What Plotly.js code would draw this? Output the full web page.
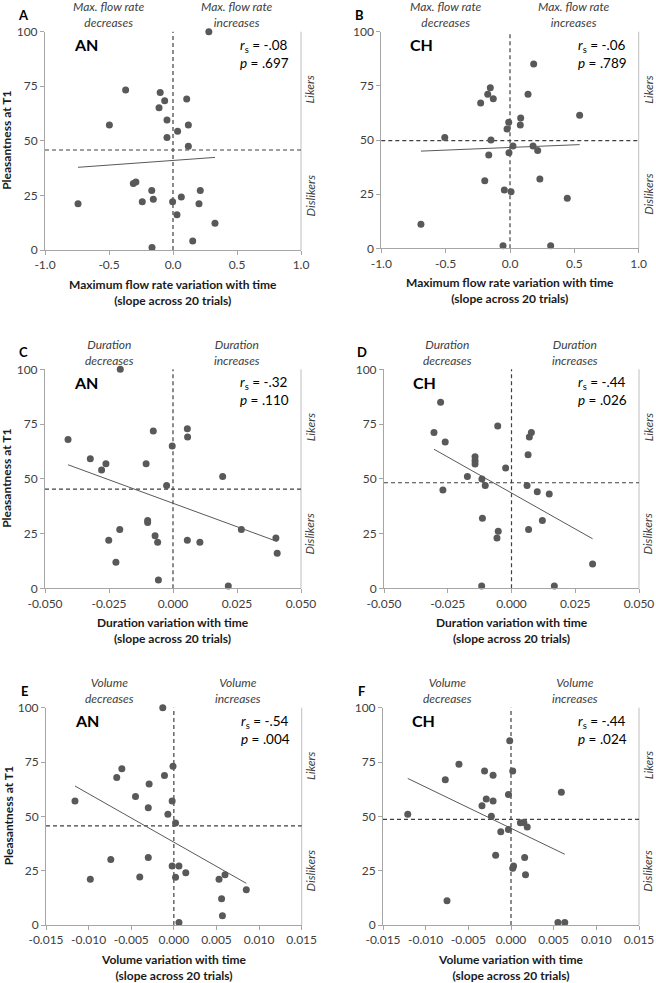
<!DOCTYPE html>
<html><head><meta charset="utf-8">
<script src="https://cdn.plot.ly/plotly-3.0.1.min.js"></script>
<style>html,body{margin:0;padding:0;background:#fff}#chart{width:656px;height:983px}</style>
</head><body><div id="chart"></div>
<script>
// ---------- DATA ----------
// A: AN, maximum flow rate slope vs pleasantness
const xA = [0.28, -0.37, -0.10, -0.065, 0.107, -0.109, -0.047, -0.497, 0.12, 0.036, -0.047, 0.12, -0.31, -0.29, -0.166, -0.24, -0.154, -0.003, 0.065, 0.213, 0.203, 0.031, 0.328, 0.154, -0.164, -0.742];
const yA = [100, 73.3, 72.2, 68.4, 69.2, 65.2, 59.5, 57.3, 57.3, 54.4, 51.5, 47.5, 30.5, 31.1, 27.2, 22.1, 23.2, 22.1, 24.3, 27.2, 21.2, 16.2, 12.2, 4.1, 1.2, 21.2];
// B: CH, maximum flow rate
const xB = [0.184, -0.153, -0.173, -0.13, -0.228, 0.14, 0.083, 0.541, -0.01, 0.08, -0.023, -0.507, -0.148, 0.023, 0.179, 0.215, -0.008, -0.165, -0.196, 0.232, -0.044, 0.008, 0.445, -0.692, -0.054, 0.316];
const yB = [85.1, 74.1, 71.1, 69.1, 67.1, 71.1, 60.2, 61.4, 58.2, 56.9, 55.1, 51.2, 50.0, 47.2, 47.2, 45.2, 44.1, 43.1, 31.2, 32.0, 26.9, 26.1, 23.1, 11.1, 1.2, 1.2];
// C: AN, duration
const xC = [-0.0206, -0.041, -0.0077, 0.0056, 0.0057, -0.0003, -0.0323, -0.0262, -0.0279, -0.0105, 0.0194, -0.0025, -0.0099, -0.0099, -0.0208, 0.0267, -0.0251, -0.007, -0.006, 0.0056, 0.0105, 0.0402, 0.0407, -0.0223, -0.0057, 0.0216];
const yC = [100, 68.0, 71.8, 72.9, 69.1, 65.0, 59.2, 56.9, 54.0, 56.9, 51.1, 46.9, 31.0, 30.1, 26.9, 26.9, 21.9, 24.0, 21.0, 21.9, 21.0, 23.0, 16.0, 11.9, 3.8, 1.1];
// D: CH, duration
const xD = [-0.0278, -0.0304, -0.026, -0.0054, 0.0078, 0.007, 0.0065, -0.0143, -0.0143, -0.0143, -0.0023, -0.0173, -0.0116, -0.0103, -0.0269, 0.0061, 0.0101, 0.0148, -0.0114, 0.0121, -0.0052, -0.0057, 0.0067, 0.0318, -0.0117, 0.0168];
const yD = [84.9, 71.1, 66.8, 74.1, 71.1, 69.1, 61.0, 60.1, 58.2, 56.8, 54.9, 51.0, 49.9, 46.9, 44.9, 46.9, 44.1, 43.1, 32.0, 31.0, 26.0, 23.0, 26.9, 11.1, 1.1, 1.1];
// E: AN, volume
const xE = [-0.0013, -0.0001, -0.0061, -0.0067, -0.0011, -0.0029, -0.0045, -0.0116, -0.0002, -0.003, -0.0007, 0.0002, -0.0074, -0.003, -0.0002, 0.0006, 0.0014, 0.0002, -0.004, -0.0098, 0.0053, 0.006, 0.0085, 0.0056, 0.0057, 0.0006];
const yE = [100, 73.0, 71.9, 67.9, 68.8, 64.9, 59.1, 57.1, 57.1, 54.0, 51.0, 46.9, 30.2, 31.1, 27.2, 27.2, 24.1, 22.0, 22.1, 21.0, 21.0, 23.1, 16.2, 12.1, 4.3, 1.1];
// F: CH, volume
const xF = [-0.00015, -0.0061, -0.0031, 0.0002, -0.0021, -0.0077, 0.0059, -0.0003, -0.0029, -0.0021, -0.0034, -0.0121, -0.0023, 0.0011, 0.0015, 0.0019, -0.0003, -0.0012, -0.0018, 0.0016, 0.0003, 0.0002, 0.0017, -0.0075, 0.0055, 0.0063];
const yF = [84.8, 74.0, 70.9, 70.9, 68.9, 66.9, 61.1, 60.0, 58.0, 57.1, 54.9, 51.0, 50.1, 47.1, 47.2, 45.1, 44.0, 42.9, 32.1, 31.1, 27.2, 26.1, 23.1, 11.2, 1.1, 1.1];

const panelLetters = ['A', 'B', 'C', 'D', 'E', 'F'];
const groupNames = ['AN', 'CH', 'AN', 'CH', 'AN', 'CH'];
const rsValues = ['-.08', '-.06', '-.32', '-.44', '-.54', '-.44'];
const pValues = ['.697', '.789', '.110', '.026', '.004', '.024'];
const likerCut = [45.8, 49.7, 45.3, 48.2, 45.6, 48.6];

const measureNames = ['Maximum flow rate', 'Duration', 'Volume'];
const topLeftLabels = ['Max. flow rate<br>decreases', 'Duration<br>decreases', 'Volume<br>decreases'];
const topRightLabels = ['Max. flow rate<br>increases', 'Duration<br>increases', 'Volume<br>increases'];
const xTickVals = [[-1.0, -0.5, 0.0, 0.5, 1.0], [-0.050, -0.025, 0.000, 0.025, 0.050], [-0.015, -0.010, -0.005, 0.000, 0.005, 0.010, 0.015]];
const xTickDecimals = [1, 3, 3];
const yTickVals = [0, 25, 50, 75, 100];
const yTitle = 'Pleasantness at T1';
const xTitleLine2 = '(slope across 20 trials)';
const likersLabel = 'Likers';
const dislikersLabel = 'Dislikers';

// ---------- LAYOUT ----------
const W = 656, H = 983;
const FONT = 'Lato, "Open Sans", sans-serif';
const boxes = [[45, 301, 31.7, 250], [381.3, 638.7, 31.7, 248.3], [45, 301, 369.3, 588.3], [384, 639, 369.3, 588.3], [46, 301.7, 707.7, 925], [383, 639, 707.7, 925]];
const xs = [xA, xB, xC, xD, xE, xF];
const ys = [yA, yB, yC, yD, yE, yF];

function fmt(v, d) { return v.toFixed(d).replace('\u2212', '-'); }
function ols(x, y) {
  const n = x.length;
  const mx = x.reduce((a, b) => a + b, 0) / n, my = y.reduce((a, b) => a + b, 0) / n;
  let sxy = 0, sxx = 0;
  for (let k = 0; k < n; k++) { sxy += (x[k] - mx) * (y[k] - my); sxx += (x[k] - mx) ** 2; }
  const b = sxy / sxx; return [my - b * mx, b];
}

const data = [];
const layout = {
  width: W, height: H, margin: {l: 0, r: 0, t: 0, b: 0},
  paper_bgcolor: '#fff', plot_bgcolor: '#fff', showlegend: false,
  font: {family: FONT, color: '#404040'},
  shapes: [], annotations: []
};

for (let i = 0; i < 6; i++) {
  const r = Math.floor(i / 2);
  const n = i + 1;
  const xid = n === 1 ? 'x' : 'x' + n, yid = n === 1 ? 'y' : 'y' + n;
  const xk = n === 1 ? 'xaxis' : 'xaxis' + n, yk = n === 1 ? 'yaxis' : 'yaxis' + n;
  const [l, rr, t, b] = boxes[i];
  const tv = xTickVals[r];
  layout[xk] = {
    domain: [l / W, rr / W], range: [tv[0], tv[tv.length - 1]], anchor: yid,
    tickvals: tv, ticktext: tv.map(v => fmt(v, xTickDecimals[r])),
    showgrid: false, zeroline: false, showline: true, linecolor: '#a6a6a6', linewidth: 1,
    ticks: 'outside', ticklen: 4, tickcolor: '#a6a6a6', tickwidth: 1,
    tickfont: {family: FONT, size: 12, color: '#404040'}, fixedrange: true
  };
  layout[yk] = {
    domain: [1 - b / H, 1 - t / H], range: [0, 100], anchor: xid,
    tickvals: yTickVals, ticktext: yTickVals.map(String),
    showgrid: false, zeroline: false, showline: true, linecolor: '#a6a6a6', linewidth: 1,
    ticks: 'outside', ticklen: 4, tickcolor: '#a6a6a6', tickwidth: 1,
    tickfont: {family: FONT, size: 12, color: '#404040'}, fixedrange: true
  };

  // right border
  layout.shapes.push({type: 'line', xref: xid + ' domain', yref: yid + ' domain', x0: 1, x1: 1, y0: 0, y1: 1, line: {color: '#bfbfbf', width: 1}, layer: 'below'});
  // vertical dashed at zero
  layout.shapes.push({type: 'line', xref: xid, yref: yid + ' domain', x0: 0, x1: 0, y0: 0, y1: 1, line: {color: '#404040', width: 1.2, dash: '4px,3px'}, layer: 'below'});
  // horizontal dashed liker/disliker cut
  layout.shapes.push({type: 'line', xref: xid + ' domain', yref: yid, x0: 0, x1: 1, y0: likerCut[i], y1: likerCut[i], line: {color: '#404040', width: 1.2, dash: '4px,3px'}, layer: 'below'});

  // regression line
  const [a, sl] = ols(xs[i], ys[i]);
  const xmin = Math.min(...xs[i]), xmax = Math.max(...xs[i]);
  data.push({type: 'scatter', mode: 'lines', x: [xmin, xmax], y: [a + sl * xmin, a + sl * xmax], xaxis: xid, yaxis: yid,
    line: {color: '#595959', width: 1}, hoverinfo: 'skip', cliponaxis: false});
  // points
  data.push({type: 'scatter', mode: 'markers', x: xs[i], y: ys[i], xaxis: xid, yaxis: yid,
    marker: {size: 7, color: '#595959'}, cliponaxis: false});

  const ax = xid + ' domain', ay = yid + ' domain';
  const A = layout.annotations;
  A.push({xref: ax, yref: ay, x: 0, y: 1, xshift: -22, yshift: 17, xanchor: 'center', yanchor: 'middle', showarrow: false,
    text: '<b>' + panelLetters[i] + '</b>', font: {family: FONT, size: 13, color: '#000'}});
  A.push({xref: ax, yref: ay, x: 0, y: 1, xshift: 27, yshift: -13, xanchor: 'left', yanchor: 'middle', showarrow: false,
    text: '<b>' + groupNames[i] + '</b>', font: {family: FONT, size: 16, color: '#000'}});
  A.push({xref: ax, yref: ay, x: 1, y: 1, xshift: -10, yshift: -22, xanchor: 'right', yanchor: 'middle', align: 'left', showarrow: false,
    text: '<i>r</i><sub>s</sub> = ' + rsValues[i] + '<br><i>p</i> = ' + pValues[i], font: {family: FONT, size: 13.5, color: '#000'}});
  A.push({xref: ax, yref: ay, x: 0.25, y: 1, yshift: 17, xanchor: 'center', yanchor: 'middle', showarrow: false,
    text: '<i>' + topLeftLabels[r] + '</i>', font: {family: FONT, size: 12, color: '#404040'}});
  A.push({xref: ax, yref: ay, x: 0.75, y: 1, yshift: 17, xanchor: 'center', yanchor: 'middle', showarrow: false,
    text: '<i>' + topRightLabels[r] + '</i>', font: {family: FONT, size: 12, color: '#404040'}});
  A.push({xref: ax, yref: ay, x: 1, y: 0.735, xshift: 9, xanchor: 'center', yanchor: 'middle', textangle: -90, showarrow: false,
    text: '<i>' + likersLabel + '</i>', font: {family: FONT, size: 12, color: '#404040'}});
  A.push({xref: ax, yref: ay, x: 1, y: 0.25, xshift: 9, xanchor: 'center', yanchor: 'middle', textangle: -90, showarrow: false,
    text: '<i>' + dislikersLabel + '</i>', font: {family: FONT, size: 12, color: '#404040'}});
  A.push({xref: ax, yref: ay, x: 0.5, y: 0, yshift: -42, xanchor: 'center', yanchor: 'middle', showarrow: false,
    text: '<b>' + measureNames[r] + ' variation with time<br>' + xTitleLine2 + '</b>', font: {family: FONT, size: 12, color: '#1a1a1a'}});
  if (i % 2 === 0) {
    A.push({xref: ax, yref: ay, x: 0, y: 0.5, xshift: -38, xanchor: 'center', yanchor: 'middle', textangle: -90, showarrow: false,
      text: '<b>' + yTitle + '</b>', font: {family: FONT, size: 12, color: '#1a1a1a'}});
  }
}

Plotly.newPlot('chart', data, layout, {staticPlot: true, displayModeBar: false});
</script>
</body></html>
